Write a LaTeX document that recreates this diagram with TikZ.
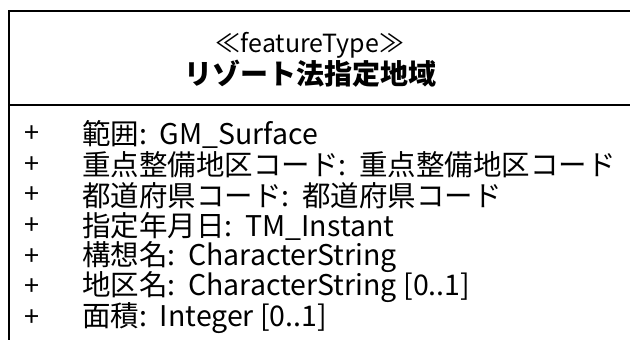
\documentclass[tikz,border=0pt]{standalone}
\usepackage{fontspec}
\setmainfont{Noto Sans CJK JP}
\newcommand{\colsep}{:\hspace{0.45em}}
\begin{document}
\begin{tikzpicture}[x=1pt,y=-1pt,
  frame/.style={line width=2pt, draw=black},
  stereo/.style={inner sep=0pt, font=\fontsize{25}{25}\selectfont},
  title/.style={inner sep=0pt, font=\fontsize{28}{28}\selectfont\bfseries},
  plusmark/.style={inner sep=0pt, font=\fontsize{27}{27}\selectfont},
  attr/.style={anchor=west, inner sep=0pt, font=\fontsize{28.5}{28.5}\selectfont}]
\useasboundingbox (0,0) rectangle (630,340);
\fill[white] (0,0) rectangle (630,340);
% frame
\coordinate (tl) at (8.5,10.5);
\coordinate (tr) at (640,10.5);
\coordinate (bl) at (8.5,345);
\coordinate (dl) at (8.5,104.5);
\coordinate (dr) at (640,104.5);
\draw[frame] (tr) -- (tl) -- (bl);
\draw[frame] (dl) -- (dr);
% header
\node[stereo] (st) at (310,45) {≪featureType≫};
\node[title] (ti) at (310,74) {リゾート法指定地域};
% attributes
\foreach \i/\t in {0/{範囲\colsep GM\_Surface},
                   1/{重点整備地区コード\colsep 重点整備地区コード},
                   2/{都道府県コード\colsep 都道府県コード},
                   3/{指定年月日\colsep TM\_Instant},
                   4/{構想名\colsep CharacterString},
                   5/{地区名\colsep CharacterString [0..1]},
                   6/{面積\colsep Integer [0..1]}} {
  \node[plusmark] (p\i) at (32,134+30.7*\i) {+};
  \node[attr] (a\i) at (82,134+30.7*\i) {\t};
}
\end{tikzpicture}
\end{document}
